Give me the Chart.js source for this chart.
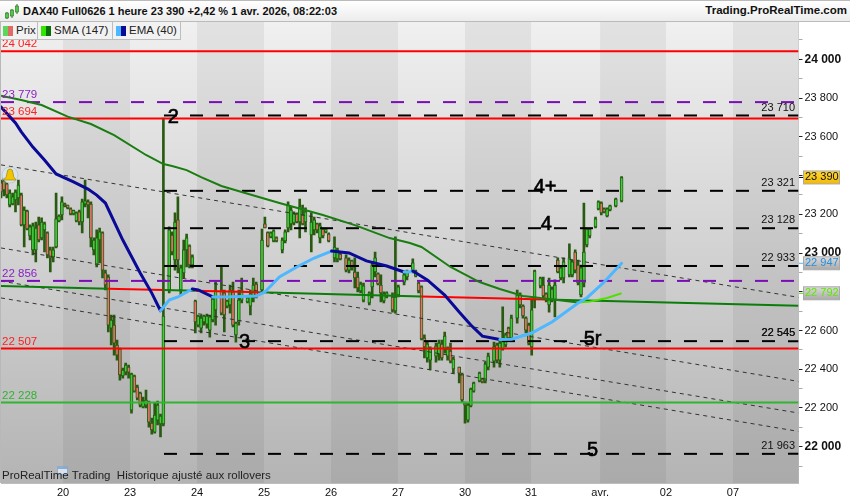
<!DOCTYPE html>
<html>
<head>
<meta charset="utf-8">
<title>DAX40 Full0626</title>
<script src="https://cdn.jsdelivr.net/npm/chart.js@4"></script>
<style>
    html, body { margin: 0; padding: 0; background: #fff; overflow: hidden; }
    body { font-family: "Liberation Sans", Arial, sans-serif; color: #111; }
    #wrap { position: relative; width: 850px; height: 500px; }
    #myChart { position: absolute; left: 0; top: 0; }
    #topbar {
        position: absolute; left: 0; top: 0; width: 850px; height: 21px;
        background: linear-gradient(#ffffff, #ececec);
        border-top: 1px solid #bbb; border-bottom: 1px solid #bbb; box-sizing: border-box; height: 22px;
    }
    #topbar svg { position: absolute; left: 4px; top: 3px; }
    #title { position: absolute; left: 23px; top: 3.5px; font-size: 11px; font-weight: bold; white-space: nowrap; }
    #site { position: absolute; right: 3px; top: 3px; font-size: 11.5px; font-weight: bold; white-space: nowrap; }
    .tab {
        position: absolute; top: 22px; height: 18px; box-sizing: border-box;
        background: #f2f2f2; border: 1px solid #bdbdbd; border-top: none; font-size: 11.5px; line-height: 16px;
    }
    .tab i { position: absolute; top: 4px; width: 5px; height: 10px; }
    .tab span { position: absolute; top: 0; white-space: nowrap; color: #222; }
</style>
</head>
<body>
<div id="wrap">
    <canvas id="myChart" width="850" height="500"></canvas>
    <div id="topbar">
        <svg width="16" height="16" viewBox="0 0 16 16">
            <path d="M3 8v7M8 5v9M13 0v10" stroke="#2a6a14" stroke-width="1"/>
            <rect x="1.5" y="9" width="3" height="5" fill="#4fc94f" stroke="#2a6a14" stroke-width=".6"/>
            <rect x="6.5" y="6" width="3" height="6" fill="#4fc94f" stroke="#2a6a14" stroke-width=".6"/>
            <rect x="11.5" y="2" width="3" height="6" fill="#4fc94f" stroke="#2a6a14" stroke-width=".6"/>
        </svg>
        <span id="title">DAX40 Full0626 1 heure 23 390 +2,42 % 1 avr. 2026, 08:22:03</span>
        <span id="site">Trading.ProRealTime.com</span>
    </div>
    <div class="tab" style="left:0;width:38px"><i style="left:2px;background:#5cd65c"></i><i style="left:7px;background:#e06a66"></i><span style="left:15px">Prix</span></div>
    <div class="tab" style="left:37px;width:76px"><i style="left:3px;background:#33e600"></i><i style="left:8px;background:#0a6e0a"></i><span style="left:16px">SMA (147)</span></div>
    <div class="tab" style="left:112px;width:69px"><i style="left:3px;background:#4db8ff"></i><i style="left:8px;background:#0a0a96"></i><span style="left:16px">EMA (40)</span></div>
</div>
<script>
// hourly bars
var barIdx = [
    0,1,2,3,4,5,6,7,8,9,10,11,12,13,14,15,16,17,18,19,
    20,21,22,23,24,25,26,27,28,29,30,31,32,33,34,35,36,37,38,39,
    40,41,42,43,44,45,46,47,48,49,50,51,52,53,54,55,56,
    58,59,60,61,62,63,64,65,66,67,68,69,70,71,72,73,74,
    76,77,78,79,80,81,82,83,85,86,87,88,90,91,92,93,94,95,
    97,98,99,100,101,102,103,104,105,107,108,109,110,111,112,113,
    115,116,117,119,120,121,122,123,124,125,127,128,129,130,131,132,133,
    135,136,137,139,140,142,143,144,145,146,147,148,150,151,152,153,154,155,156,
    158,159,160,161,162,163,165,166,167,168,170,171,172,173,174,175,176,
    178,179,180,181,182,183,184,186,187,188,189,190,191,192,193,194,
    196,197,198,199,200,201,202,203,205,206,207,208,209,210,212,214
];
var opens = [
    23362,23372,23357,23248,23253,23274,23284,23300,23145,23217,23088,23016,23016,23145,23078,23119,23104,23016,22980,23031,
    23165,23197,23253,23248,23228,23202,23165,23212,23160,23253,23264,23253,23016,22938,23067,23104,22897,22876,22612,22628,
    22525,22504,22365,22385,22411,22189,22365,22308,22277,22205,22215,22230,22122,22075,22137,22117,22117,
    22809,23093,22964,23171,22809,22897,23016,23036,22938,22752,22628,22612,22644,22633,22602,22654,22706,
    22809,22794,22726,22732,22799,22577,22644,22757,22747,22726,22768,22840,22809,23150,23106,23083,23062,23078,
    23016,23062,23129,23150,23155,23202,23160,23197,23160,23093,23119,23150,23078,23124,23109,23098,
    22975,22970,22995,22975,22912,22959,22902,22876,22804,22757,22742,22825,22902,22892,22835,22752,22773,
    22773,22701,22783,22850,22876,22902,22881,22845,22825,22561,22458,22447,22468,22478,22530,22509,22468,22494,22401,
    22411,22375,22225,22137,22210,22287,22339,22349,22339,22411,22442,22525,22447,22504,22525,22612,22561,
    22664,22783,22726,22664,22628,22515,22757,22830,22835,22789,22732,22757,22757,22964,22871,22871,
    22887,22887,23005,22938,22783,22845,23042,23088,23135,23228,23258,23228,23191,23222,23243,23269
];
var highs = [
    23377,23387,23362,23326,23310,23326,23377,23310,23238,23222,23145,23155,23160,23186,23181,23160,23109,23031,23031,23310,
    23197,23290,23258,23248,23233,23222,23212,23222,23279,23377,23274,23264,23078,23119,23129,23109,22912,22887,22680,22680,
    22551,22509,22406,22432,22422,22380,22370,22318,22282,22256,22292,22235,22148,22225,22235,22168,23697,
    23135,23109,23207,23290,22938,23067,23098,23042,22990,22757,22680,22680,22680,22685,22680,22768,22850,
    22928,22809,22757,22835,22850,22644,22809,22871,22773,22809,22871,22850,23124,23186,23109,23109,23119,23083,
    23078,23119,23264,23238,23212,23207,23279,23248,23233,23207,23186,23155,23155,23129,23129,23104,
    23083,23026,23000,22990,22975,22964,22975,22902,22850,22845,22799,22954,23005,22897,22887,22799,22799,
    22794,23083,22835,22902,22912,22970,22912,22850,22830,22577,22540,22515,22535,22551,22551,22592,22515,22535,22463,
    22411,22380,22230,22225,22303,22334,22385,22354,22437,22483,22540,22535,22551,22722,22587,22618,22680,
    22809,22794,22732,22670,22638,22757,22912,22876,22876,22794,22871,22825,22861,22975,22928,22975,
    23047,22964,23016,22964,22938,23258,23129,23129,23186,23269,23264,23233,23233,23248,23284,23395
];
var lows = [
    23284,23295,23284,23238,23248,23212,23248,23140,23031,23119,23067,22990,22954,23057,23067,23005,22975,22902,22954,23026,
    23160,23171,23238,23228,23197,23197,23160,23145,23104,23238,23181,23031,22990,22928,22949,22871,22809,22592,22525,22473,
    22447,22344,22354,22370,22354,22173,22282,22241,22205,22200,22200,22101,22065,22070,22112,22050,22107,
    22794,22990,22912,22897,22783,22871,22928,22923,22923,22587,22618,22587,22628,22612,22566,22644,22628,
    22680,22592,22716,22690,22618,22540,22628,22742,22742,22680,22747,22768,22794,23129,23031,23078,23057,23057,
    23000,23052,23109,23119,23145,23155,23078,23145,23109,23005,23093,23104,23052,23078,23104,23057,
    22954,22954,22964,22902,22897,22912,22820,22799,22794,22747,22732,22768,22876,22835,22747,22742,22768,
    22695,22690,22773,22835,22861,22897,22876,22794,22551,22458,22437,22396,22437,22447,22447,22483,22447,22432,22380,
    22329,22230,22122,22127,22205,22282,22334,22329,22329,22396,22411,22432,22411,22499,22515,22551,22551,
    22638,22716,22664,22587,22525,22473,22716,22820,22768,22747,22695,22747,22670,22897,22861,22845,
    22876,22876,22897,22835,22773,22825,23031,23078,23129,23222,23197,23207,23186,23217,23238,23264
];
var closes = [
    23315,23326,23300,23310,23290,23315,23351,23145,23222,23124,23135,23140,23129,23067,23160,23150,22990,22975,23016,23176,
    23191,23264,23243,23233,23202,23220,23207,23160,23264,23269,23248,23078,23067,23078,23109,22912,22835,22628,22654,22535,
    22473,22370,22396,22422,22385,22375,22287,22251,22215,22230,22241,22127,22086,22163,22215,22158,22675,
    23119,23005,23160,22964,22923,23016,23078,22938,22980,22644,22675,22664,22675,22675,22670,22762,22809,
    22690,22680,22752,22809,22628,22638,22757,22809,22768,22789,22835,22778,23067,23129,23036,23104,23114,23062,
    23067,23109,23248,23222,23202,23160,23238,23150,23212,23160,23171,23119,23140,23088,23124,23062,
    23031,23016,22970,22912,22964,22923,22871,22820,22840,22830,22794,22938,22975,22840,22794,22789,22794,
    22706,22773,22825,22887,22902,22949,22907,22804,22556,22515,22530,22504,22520,22535,22458,22571,22504,22442,22452,
    22380,22241,22215,22215,22297,22329,22380,22334,22427,22468,22515,22447,22535,22551,22577,22561,22664,
    22783,22732,22675,22602,22535,22706,22907,22871,22778,22757,22835,22814,22835,22902,22923,22954,
    22975,22954,22912,22845,22923,23005,23124,23124,23176,23264,23207,23212,23228,23243,23279,23390
];

// moving averages, read every few bars
var smaIdx = [0,7,14,23,31,39,50,56,59,64,69,76,83,96,111,122,134,141,145,155,165,172,180,189,199,203,209,214];
var smaVals = [23812,23790,23764,23704,23666,23609,23506,23459,23449,23428,23392,23346,23315,23258,23196,23144,23077,23052,23031,22928,22850,22814,22778,22762,22744,22749,22768,22792];
var emaIdx = [0,5,7,11,15,19,25,30,33,36,42,48,52,55,58,61,66,68,73,79,83,88,91,96,102,108,114,120,126,133,139,141,142,147,153,158,162,166,172,176,183,190,199,202,208,214];
var emaVals = [23754,23671,23625,23547,23480,23408,23367,23330,23299,23258,23067,22897,22793,22702,22757,22773,22814,22809,22773,22774,22776,22778,22799,22876,22928,22974,23010,23000,22959,22933,22902,22903,22907,22861,22783,22695,22628,22571,22553,22555,22587,22644,22742,22768,22850,22947];

// long support line, green and red by turns
var trendIdx = [0,37,56,67,89,145,188,275];
var trendVals = [22830,22816,22809,22805,22797,22776,22760,22728];

// horizontal levels
var redLevels = [24042,23694,22507];
var greenLevels = [22228];
var purpleLevels = [23779,22856];
var blackLevels = [23710,23321,23128,22933,22545,21963];

// falling channel lines, start and end values
var channelStart = [23455,23026,22855,22768];
var channelEnd = [22771,22337,22174,22079];

// axes
var dayTicks = [21.4,44.5,67.6,90.7,113.8,136.9,160,182.8,206.6,229.3,252.4];
var dayLabels = ['20','23','24','25','26','27','30','31','avr.','02','07'];

// wave counts drawn on the chart: bar index, price, text
var waveIdx = [59.4,187.6,188,84,204,204];
var waveVals = [23700,23340,23145,22540,22555,21982];
var waveText = ['2','4+','4','3','5r','5'];

var lastClose = 23390, lastEma = 22947, lastSma = 22792;

function fmt(v) {
    var s = String(v);
    return s.slice(0, s.length - 3) + ' ' + s.slice(-3);
}

function hline(value, from, color, width, dash, order) {
    return {
        type: 'line',
        data: [{x: from, y: value}, {x: 275, y: value}],
        borderColor: color, borderWidth: width, borderDash: dash || [],
        pointRadius: 0, order: order
    };
}

var datasets = [];

// candles: wick first, body above it
datasets.push({
    type: 'bar',
    data: barIdx.map(function (x, i) { return {x: x, y: [lows[i], highs[i]]}; }),
    backgroundColor: '#2a5a12',
    barThickness: 2, grouped: false, order: 20
});
datasets.push({
    type: 'bar',
    data: barIdx.map(function (x, i) { return {x: x, y: [opens[i], closes[i]]}; }),
    backgroundColor: function (ctx) {
        var i = ctx.dataIndex;
        return closes[i] >= opens[i] ? '#3ccf3c' : '#e8736a';
    },
    borderColor: '#2a5a12', borderWidth: 1, borderSkipped: false,
    barThickness: 3, grouped: false, order: 19
});

// channel lines
channelStart.forEach(function (v, i) {
    datasets.push({
        type: 'line',
        data: [{x: 0, y: v}, {x: 275, y: channelEnd[i]}],
        borderColor: '#333', borderWidth: 1, borderDash: [4, 4], pointRadius: 0, order: 15
    });
});

// levels
redLevels.forEach(function (v) { datasets.push(hline(v, 0, '#ff0000', 2, null, 8)); });
greenLevels.forEach(function (v) { datasets.push(hline(v, 0, '#2fb52f', 2, null, 8)); });
purpleLevels.forEach(function (v) { datasets.push(hline(v, 0, '#7b0db5', 2, [13, 13], 8)); });
blackLevels.forEach(function (v) { datasets.push(hline(v, 56.2, '#000', 2, [13, 13], 8)); });

// support line
datasets.push({
    type: 'line',
    data: trendIdx.map(function (x, i) { return {x: x, y: trendVals[i]}; }),
    borderColor: '#0a7d0a', borderWidth: 2, pointRadius: 0, order: 7,
    segment: {
        borderColor: function (ctx) { return ctx.p0DataIndex % 2 ? '#ff0000' : '#0a7d0a'; }
    }
});

// SMA, EMA: bright colour when rising
datasets.push({
    type: 'line',
    data: smaIdx.map(function (x, i) { return {x: x, y: smaVals[i]}; }),
    borderColor: '#1a7d10', borderWidth: 2, pointRadius: 0, order: 6,
    segment: {
        borderColor: function (ctx) { return ctx.p1.parsed.y > ctx.p0.parsed.y ? '#4fe000' : '#1a7d10'; }
    }
});
datasets.push({
    type: 'line',
    data: emaIdx.map(function (x, i) { return {x: x, y: emaVals[i]}; }),
    borderColor: '#0a0a96', borderWidth: 3, pointRadius: 0, order: 5, borderCapStyle: 'round',
    segment: {
        borderColor: function (ctx) { return ctx.p1.parsed.y >= ctx.p0.parsed.y ? '#4db8ff' : '#0a0a96'; }
    }
});

// gradient background and day bands
var backgroundPlugin = {
    id: 'background',
    beforeDatasetsDraw: function (chart) {
        var a = chart.chartArea, ctx = chart.ctx, xs = chart.scales.x;
        ctx.save();
        var g = ctx.createLinearGradient(0, a.top, 0, a.bottom);
        g.addColorStop(0, '#f0f0f0');
        g.addColorStop(1, '#b4b4b4');
        ctx.fillStyle = g;
        ctx.fillRect(a.left, a.top, a.right - a.left, a.bottom - a.top);
        ctx.fillStyle = 'rgba(0,0,0,0.055)';
        dayTicks.forEach(function (t, i) {
            if (i % 2) return;
            var x0 = xs.getPixelForValue(t);
            var x1 = i + 1 < dayTicks.length ? xs.getPixelForValue(dayTicks[i + 1]) : a.right;
            ctx.fillRect(x0, a.top, x1 - x0, a.bottom - a.top);
        });
        ctx.fillStyle = '#b8b8b8';
        ctx.fillRect(0, a.top, 1, a.bottom - a.top);
        ctx.restore();
    }
};

function badge(ctx, y, text, color, top, bottom, tick) {
    var g = ctx.createLinearGradient(0, y - 7, 0, y + 7);
    g.addColorStop(0, top);
    g.addColorStop(1, bottom);
    ctx.fillStyle = g;
    ctx.fillRect(803.5, y - 6.5, 36, 13);
    ctx.strokeStyle = '#aaa';
    ctx.lineWidth = 1;
    ctx.strokeRect(803.5, y - 6.5, 36, 13);
    ctx.fillStyle = tick;
    ctx.fillRect(799, y - 0.5, 4, 1);
    ctx.fillStyle = color;
    ctx.textAlign = 'left';
    ctx.font = '11px "Liberation Sans"';
    ctx.fillText(text, 805, y);
}

var labelsPlugin = {
    id: 'labels',
    afterDraw: function (chart) {
        var ctx = chart.ctx, xs = chart.scales.x, ys = chart.scales.y;
        ctx.save();
        ctx.textBaseline = 'middle';

        // level captions
        ctx.font = '11.5px "Liberation Sans"';
        ctx.textAlign = 'left';
        ctx.fillStyle = '#ff2020';
        redLevels.forEach(function (v) { ctx.fillText(fmt(v), 2, ys.getPixelForValue(v) - 7); });
        ctx.fillStyle = '#8a1fc4';
        purpleLevels.forEach(function (v) { ctx.fillText(fmt(v), 2, ys.getPixelForValue(v) - 7); });
        ctx.fillStyle = '#2fb52f';
        greenLevels.forEach(function (v) { ctx.fillText(fmt(v), 2, ys.getPixelForValue(v) - 7); });
        ctx.font = '11px "Liberation Sans"';
        ctx.textAlign = 'right';
        ctx.fillStyle = '#111';
        blackLevels.forEach(function (v) {
            ctx.fillText(fmt(v), 795, ys.getPixelForValue(v) - 8);
            if (v === 22545) ctx.fillText(fmt(v), 795.4, ys.getPixelForValue(v) - 8);
        });

        // wave counts
        ctx.textAlign = 'center';
        ctx.font = '20px "Liberation Sans"';
        ctx.fillStyle = '#000';
        ctx.strokeStyle = '#000';
        ctx.lineWidth = 0.6;
        waveText.forEach(function (t, i) {
            var x = xs.getPixelForValue(waveIdx[i]), y = ys.getPixelForValue(waveVals[i]);
            ctx.fillText(t, x, y);
            ctx.strokeText(t, x, y);
        });

        // alert bell
        ctx.beginPath();
        ctx.arc(10, 175, 8, 0, Math.PI * 2);
        ctx.fillStyle = 'rgba(215,230,240,0.8)';
        ctx.fill();
        ctx.strokeStyle = 'rgba(170,190,200,0.9)';
        ctx.lineWidth = 0.7;
        ctx.stroke();
        ctx.beginPath();
        ctx.moveTo(4, 180);
        ctx.quadraticCurveTo(7, 177, 7, 173);
        ctx.quadraticCurveTo(7, 169, 10, 169);
        ctx.quadraticCurveTo(13, 169, 13, 173);
        ctx.quadraticCurveTo(13, 177, 16, 180);
        ctx.closePath();
        ctx.fillStyle = '#f2c500';
        ctx.fill();
        ctx.strokeStyle = '#a88600';
        ctx.stroke();

        // footer with its small calendar
        ctx.fillStyle = 'rgba(130,170,215,0.75)';
        ctx.fillRect(57, 466, 11, 9);
        ctx.fillStyle = 'rgba(235,240,245,0.8)';
        ctx.fillRect(58, 469, 9, 5);
        ctx.textAlign = 'left';
        ctx.font = '11.5px "Liberation Sans"';
        ctx.fillStyle = '#222';
        ctx.fillText('ProRealTime Trading  Historique ajusté aux rollovers', 2, 476);

        // last values on the price axis
        badge(ctx, ys.getPixelForValue(lastEma), fmt(lastEma), '#2b8fd8', '#dcdcdc', '#a8a8a8', '#4db8ff');
        badge(ctx, ys.getPixelForValue(lastSma), fmt(lastSma), '#5fe800', '#dcdcdc', '#a8a8a8', '#4fe000');
        badge(ctx, ys.getPixelForValue(lastClose), fmt(lastClose), '#111', '#ffd83a', '#f2b800', '#000');
        ctx.restore();
    }
};

new Chart(document.getElementById('myChart').getContext('2d'), {
    data: {datasets: datasets},
    plugins: [backgroundPlugin, labelsPlugin],
    options: {
        responsive: false,
        animation: false,
        events: [],
        layout: {padding: {top: 22, left: 1, right: 0, bottom: 0}},
        plugins: {legend: {display: false}, tooltip: {enabled: false}, title: {display: false}},
        scales: {
            x: {
                type: 'linear', min: 0, max: 275, offset: false,
                afterFit: function (scale) { scale.height = 17; },
                afterBuildTicks: function (scale) {
                    scale.ticks = dayTicks.map(function (t) { return {value: t}; });
                },
                grid: {drawOnChartArea: false, drawTicks: false, offset: false},
                border: {color: '#bdbdbd'},
                ticks: {
                    autoSkip: false, maxRotation: 0, padding: 3, color: '#111',
                    font: {family: 'Liberation Sans', size: 11},
                    callback: function (value, index) { return dayLabels[index]; }
                }
            },
            y: {
                type: 'linear', position: 'right', min: 21812.6, max: 24192.6,
                afterFit: function (scale) { scale.width = 51.5; },
                afterBuildTicks: function (scale) {
                    scale.ticks = scale.ticks.filter(function (t) { return t.value % 100 === 0; });
                },
                grid: {
                    drawOnChartArea: false, tickLength: 4,
                    tickColor: function (ctx) { return ctx.tick.value % 200 === 0 ? '#222' : '#aaa'; }
                },
                border: {color: '#bdbdbd'},
                ticks: {
                    stepSize: 100, autoSkip: false, padding: 2, color: '#111',
                    font: function (ctx) {
                        var bold = ctx.tick && ctx.tick.value % 1000 === 0;
                        return {family: 'Liberation Sans', size: bold ? 12 : 11, weight: bold ? 'bold' : 'normal'};
                    },
                    callback: function (value) {
                        return value % 200 === 0 ? fmt(value) : '';
                    }
                }
            }
        }
    }
});
</script>
</body>
</html>
